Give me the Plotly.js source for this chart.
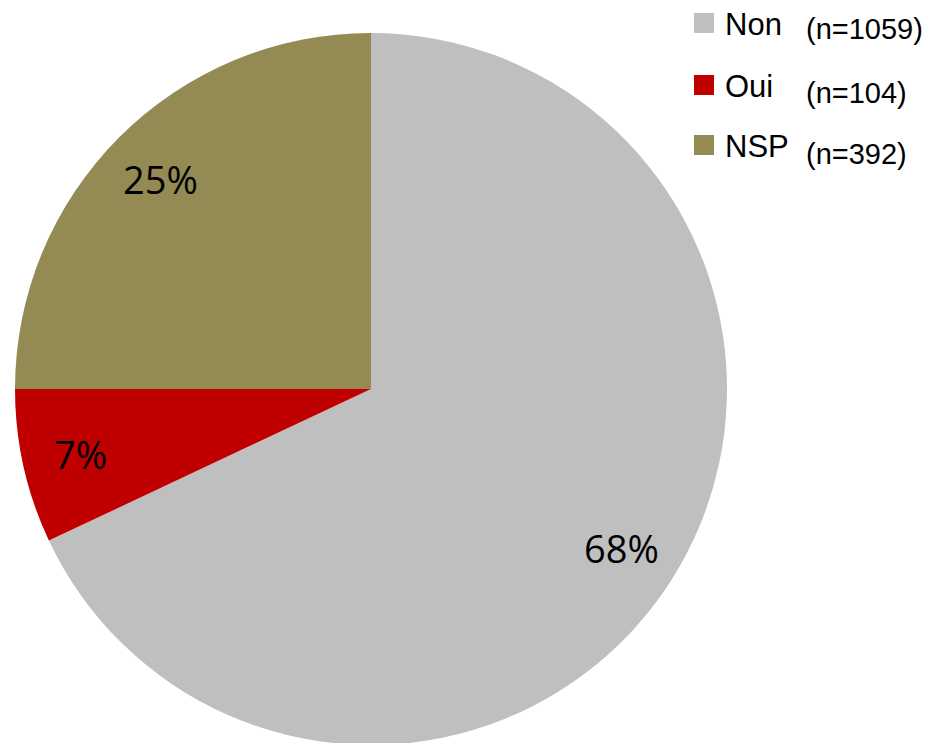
<!DOCTYPE html>
<html>
<head>
<meta charset="utf-8">
<script src="https://cdn.plot.ly/plotly-3.0.1.min.js"></script>
<style>
html,body{margin:0;padding:0;overflow:hidden;background:#fff;}
#chart{width:938px;height:750px;}
</style>
</head>
<body>
<div id="chart"></div>
<script>
const categories = ["Non", "Oui", "NSP"];
const percents = [68, 7, 25];
const nLabels = ["(n=1059)", "(n=104)", "(n=392)"];
const colors = ["#BFBFBF", "#C00000", "#948A54"];

const W = 938, H = 750;
const px = x => x / W;
const py = y => 1 - y / H;

// pie geometry (pixels)
const CX = 371, CY = 389, R = 356;

const trace = {
  type: "pie",
  labels: categories,
  values: percents,
  sort: false,
  direction: "clockwise",
  rotation: 0,
  marker: { colors: colors, line: { width: 0 } },
  textinfo: "none",
  hoverinfo: "none",
  showlegend: false,
  domain: { x: [px(CX - R), px(CX + R)], y: [py(CY + R), py(CY - R)] }
};

const shapes = [];
const annotations = [];

// percentage labels placed along each slice's bisector
const total = percents.reduce((a, b) => a + b, 0);
let cum = 0;
percents.forEach((v, i) => {
  const f = v / total;
  const mid = (cum + f / 2) * 2 * Math.PI;
  cum += f;
  const r = 0.835 * R;
  const x = CX + r * Math.sin(mid);
  const y = CY - r * Math.cos(mid);
  annotations.push({
    xref: "paper", yref: "paper", x: px(x), y: py(y),
    xanchor: "center", yanchor: "middle", showarrow: false,
    text: v + "%",
    font: { family: "Open Sans", size: 38, color: "#000" }
  });
});

// manual legend
const sqCenters = [23, 85, 145];
const nCenters = [29, 93, 154];
categories.forEach((c, i) => {
  shapes.push({
    type: "rect", xref: "paper", yref: "paper",
    x0: px(694), x1: px(714), y0: py(sqCenters[i] - 10), y1: py(sqCenters[i] + 10),
    fillcolor: colors[i], line: { width: 0 }
  });
  annotations.push({
    xref: "paper", yref: "paper", x: px(723), y: py(sqCenters[i] + 1),
    xanchor: "left", yanchor: "middle", showarrow: false,
    text: c, font: { family: "Liberation Sans", size: 31, color: "#000" }
  });
  annotations.push({
    xref: "paper", yref: "paper", x: px(804), y: py(nCenters[i]),
    xanchor: "left", yanchor: "middle", showarrow: false,
    text: nLabels[i], font: { family: "Liberation Sans", size: 29, color: "#000" }
  });
});

const layout = {
  width: W, height: H,
  margin: { l: 0, r: 0, t: 0, b: 0 },
  paper_bgcolor: "#fff",
  plot_bgcolor: "#fff",
  shapes: shapes,
  annotations: annotations,
  showlegend: false
};

Plotly.newPlot("chart", [trace], layout, { staticPlot: true });
</script>
</body>
</html>
